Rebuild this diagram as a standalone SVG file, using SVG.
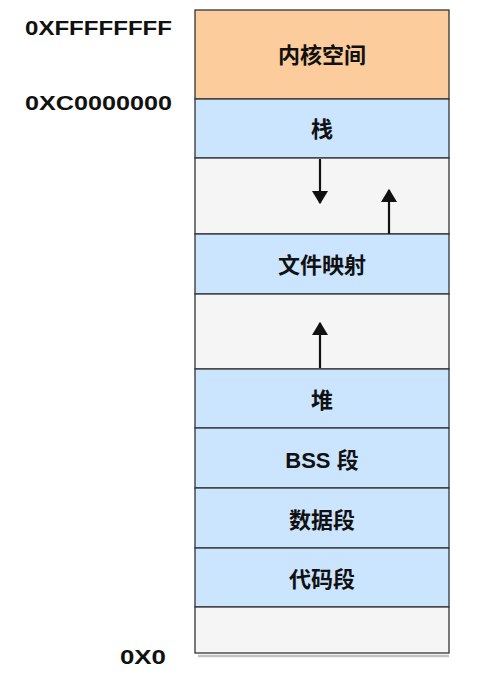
<svg xmlns="http://www.w3.org/2000/svg" width="483" height="681" viewBox="0 0 483 681">
<style>
.seg{stroke:#333;stroke-width:1.3}
.k{fill:#FCCC9C}
.b{fill:#CCE5FF}
.g{fill:#F5F5F5}
.sh{stroke:#999;stroke-width:2.5;fill:none;opacity:0.6}
.t{font-family:"Liberation Sans","Noto Sans CJK SC",sans-serif;font-weight:bold;font-size:22px;fill:#111;text-anchor:middle}
.a{font-family:"Liberation Sans",sans-serif;font-weight:bold;font-size:21px;fill:#111}
</style>
<defs>
<marker id="ah" viewBox="0 0 10 12" refX="9" refY="6" markerUnits="userSpaceOnUse" markerWidth="16" markerHeight="16" orient="auto">
<path d="M0,0 L10,6 L0,12 z" fill="#111"/>
</marker>
</defs>
<g id="labels">
<text class="a" x="25" y="35" textLength="147" lengthAdjust="spacingAndGlyphs">0XFFFFFFFF</text>
<text class="a" x="25" y="110" textLength="147" lengthAdjust="spacingAndGlyphs">0XC0000000</text>
<text class="a" x="120" y="664" textLength="46" lengthAdjust="spacingAndGlyphs">0X0</text>
</g>
<g id="shadows">
<path class="sh" d="M196,161 L449,161"/>
<path class="sh" d="M196,297 L449,297"/>
<path class="sh" d="M196,610 L449,610"/>
<path class="sh" d="M198,656 L449,656"/>
</g>
<g id="kernel"><rect class="seg k" x="195" y="10" width="254" height="89"/><text class="t" x="322" y="63">内核空间</text></g>
<g id="stack"><rect class="seg b" x="195" y="99" width="254" height="59"/><text class="t" x="322" y="137">栈</text></g>
<g id="gap1"><rect class="seg g" x="195" y="158" width="254" height="76"/></g>
<g id="mmap"><rect class="seg b" x="195" y="234" width="254" height="60"/><text class="t" x="322" y="273">文件映射</text></g>
<g id="gap2"><rect class="seg g" x="195" y="294" width="254" height="75"/></g>
<g id="heap"><rect class="seg b" x="195" y="369" width="254" height="59"/><text class="t" x="322" y="408">堆</text></g>
<g id="bss"><rect class="seg b" x="195" y="428" width="254" height="60"/><text class="t" x="322" y="468">BSS 段</text></g>
<g id="data"><rect class="seg b" x="195" y="488" width="254" height="60"/><text class="t" x="322" y="528">数据段</text></g>
<g id="code"><rect class="seg b" x="195" y="548" width="254" height="59"/><text class="t" x="322" y="587">代码段</text></g>
<g id="gap3"><rect class="seg g" x="195" y="607" width="254" height="46"/></g>
<g id="connectors" stroke="#111" stroke-width="2.2" fill="none">
<path d="M320,159 L320,203" marker-end="url(#ah)"/>
<path d="M389,234 L389,190" marker-end="url(#ah)"/>
<path d="M320,368 L320,323" marker-end="url(#ah)"/>
</g>
</svg>
